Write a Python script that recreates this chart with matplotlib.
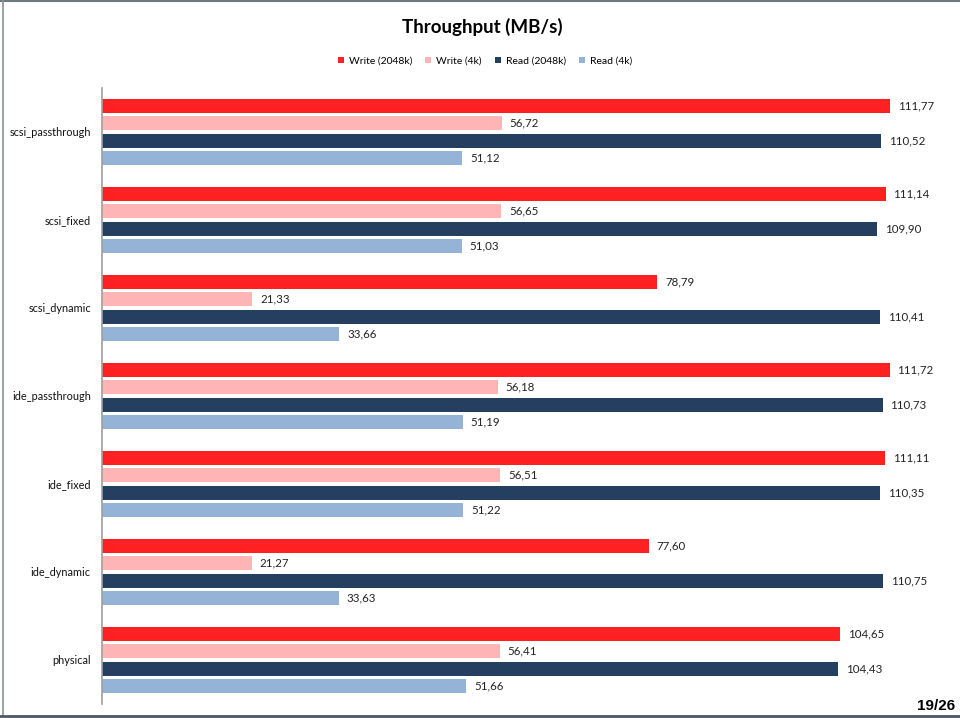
import matplotlib.pyplot as plt
import numpy as np

plt.rcParams['font.family'] = ['Lato', 'DejaVu Sans']

# 数据
categories = ['scsi_passthrough', 'scsi_fixed', 'scsi_dynamic', 'ide_passthrough',
              'ide_fixed', 'ide_dynamic', 'physical']
series_names = ['Write (2048k)', 'Write (4k)', 'Read (2048k)', 'Read (4k)']
write_2048k = [111.77, 111.14, 78.79, 111.72, 111.11, 77.60, 104.65]
write_4k = [56.72, 56.65, 21.33, 56.18, 56.51, 21.27, 56.41]
read_2048k = [110.52, 109.90, 110.41, 110.73, 110.35, 110.75, 104.43]
read_4k = [51.12, 51.03, 33.66, 51.19, 51.22, 33.63, 51.66]

colors = ['#FF2121', '#FFB5B5', '#243F60', '#95B3D7']

fig = plt.figure(figsize=(9.6, 7.18), dpi=100)
W, H = 960, 718

# 坐标轴位置 (像素)
ax_left, ax_right, ax_top, ax_bottom = 102, 948, 88, 704
ax = fig.add_axes([ax_left / W, 1 - ax_bottom / H,
                   (ax_right - ax_left) / W, (ax_bottom - ax_top) / H])

y = np.arange(len(categories))
slot = 0.2
bar_h = 0.16
all_series = [write_2048k, write_4k, read_2048k, read_4k]
for i, (vals, name, c) in enumerate(zip(all_series, series_names, colors)):
    pos = y - 1.5 * slot + i * slot
    ax.barh(pos, vals, height=bar_h, color=c, label=name)
    for p, v in zip(pos, vals):
        ax.text(v + 1.1, p, f'{v:.2f}'.replace('.', ','), va='center', ha='left',
                fontsize=8.3, color='#222222')

ax.set_xlim(0, 120)
ax.set_ylim(len(categories) - 0.5, -0.5)
ax.set_yticks(y)
ax.set_yticklabels(categories, fontsize=7.8, color='#111111')
ax.tick_params(axis='y', length=0, pad=8)
ax.set_xticks([])

for s in ['top', 'right', 'bottom']:
    ax.spines[s].set_visible(False)
ax.spines['left'].set_color('#A0A0A0')
ax.spines['left'].set_linewidth(1.2)

# 标题
fig.text(482 / W, 1 - 27 / H, 'Throughput (MB/s)', ha='center', va='center',
         fontsize=13.5, fontweight='bold', color='#000000')

# 图例
handles, labels = ax.get_legend_handles_labels()
fig.legend(handles, labels, loc='center', bbox_to_anchor=(485 / W, 1 - 61 / H),
           ncol=4, frameon=False, fontsize=7.5, handlelength=0.6, handleheight=0.6,
           handletextpad=0.5, columnspacing=1.2)

# 幻灯片边框
fig.add_artist(plt.Line2D([0, 1], [1 - 0.8 / H, 1 - 0.8 / H], transform=fig.transFigure,
                          color='#707880', linewidth=1.5))
fig.add_artist(plt.Line2D([2.5 / W, 2.5 / W], [1 - 715.5 / H, 1], transform=fig.transFigure,
                          color='#8A9098', linewidth=1.2))
fig.add_artist(plt.Line2D([0, 1], [1 - 715.5 / H, 1 - 715.5 / H], transform=fig.transFigure,
                          color='#505860', linewidth=2))

# 页码
fig.text(955 / W, 1 - 706 / H, '19/26', ha='right', va='center', fontsize=11,
         fontweight='bold', family=['Liberation Sans', 'DejaVu Sans'])

fig.savefig('out.png', dpi=100, facecolor='white')
